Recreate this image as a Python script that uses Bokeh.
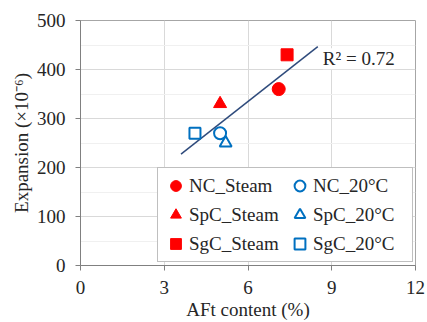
import numpy as np
from bokeh.plotting import figure
from bokeh.models import Legend, LegendItem, Label, FixedTicker, Range1d
from bokeh.embed import file_html
from bokeh.resources import INLINE

# ---- data ----
series_names = ["NC_Steam", "SpC_Steam", "SgC_Steam", "NC_20°C", "SpC_20°C", "SgC_20°C"]
aft_content = [7.1, 5.0, 7.4, 5.0, 5.2, 4.1]
expansion = [360, 330, 430, 270, 250, 270]
trend_x_extent = [3.6, 8.5]
r2_text = "R² = 0.72"
x_ticks = [0, 3, 6, 9, 12]
y_ticks = [0, 100, 200, 300, 400, 500]

RED = "#FF0000"
BLUE = "#0070C0"
FONT = "Liberation Serif"
TXT = "#262626"

p = figure(width=427, height=322, output_backend="svg", toolbar_location=None,
           x_range=Range1d(0, 12), y_range=Range1d(0, 500),
           min_border_left=80, min_border_right=12, min_border_top=20, min_border_bottom=57)
p.outline_line_color = "#A6A6A6"
p.background_fill_color = "white"
p.border_fill_color = "white"

# axes
for ax in (p.xaxis[0], p.yaxis[0]):
    ax.axis_line_color = "#808080"
    ax.major_tick_line_color = "#808080"
    ax.minor_tick_line_color = None
    ax.major_tick_in = 0
    ax.major_tick_out = 5
    ax.major_label_text_font = FONT
    ax.major_label_text_font_size = "19px"
    ax.major_label_text_color = TXT
    ax.axis_label_text_font = FONT
    ax.axis_label_text_font_size = "19px"
    ax.axis_label_text_font_style = "normal"
    ax.axis_label_text_color = TXT

p.xaxis.ticker = FixedTicker(ticks=x_ticks)
p.yaxis.ticker = FixedTicker(ticks=y_ticks, minor_ticks=list(range(50, 500, 100)))
p.xaxis.axis_label = "AFt content (%)"
p.yaxis.axis_label = "Expansion (×10⁻⁶)"
p.xaxis.major_label_standoff = 10
p.yaxis.major_label_standoff = 10
p.xaxis.axis_label_standoff = 2
p.yaxis.axis_label_standoff = 2

p.xgrid.grid_line_color = "#D9D9D9"
p.ygrid.grid_line_color = "#D9D9D9"
p.ygrid.minor_grid_line_color = "#F0F0F0"

# trendline from least squares fit
slope, intercept = np.polyfit(aft_content, expansion, 1)
tx = np.array(trend_x_extent)
p.line(tx, slope * tx + intercept, line_color="#2F4B7C", line_width=1.5)

# markers
styles = [
    ("circle", RED, True), ("triangle", RED, True), ("square", RED, True),
    ("circle", BLUE, False), ("triangle", BLUE, False), ("square", BLUE, False),
]
items = []
for name, xv, yv, (mk, col, filled) in zip(series_names, aft_content, expansion, styles):
    size = 13 if mk != "square" else 12
    if filled:
        r = p.scatter([xv], [yv], marker=mk, size=size, fill_color=col, line_color=col)
    else:
        r = p.scatter([xv], [yv], marker=mk, size=size - 1, fill_color=None,
                      line_color=col, line_width=2)
    items.append(LegendItem(label=name, renderers=[r]))

legend = Legend(items=items, ncols=2, location=(77, 3),
                label_text_font=FONT, label_text_font_size="19px", label_text_color=TXT,
                glyph_width=27, glyph_height=27, label_height=27, label_width=95,
                label_standoff=0, spacing=2, padding=4,
                border_line_color="#808080", border_line_width=1,
                background_fill_color="white", background_fill_alpha=1.0)
p.add_layout(legend, "center")

p.add_layout(Label(x=8.68, y=422, text=r2_text, text_font=FONT, text_font_size="19px",
                   text_color=TXT, text_baseline="middle",
                   background_fill_color="white", background_fill_alpha=1.0))

open("out.html", "w").write(file_html(p, INLINE))
